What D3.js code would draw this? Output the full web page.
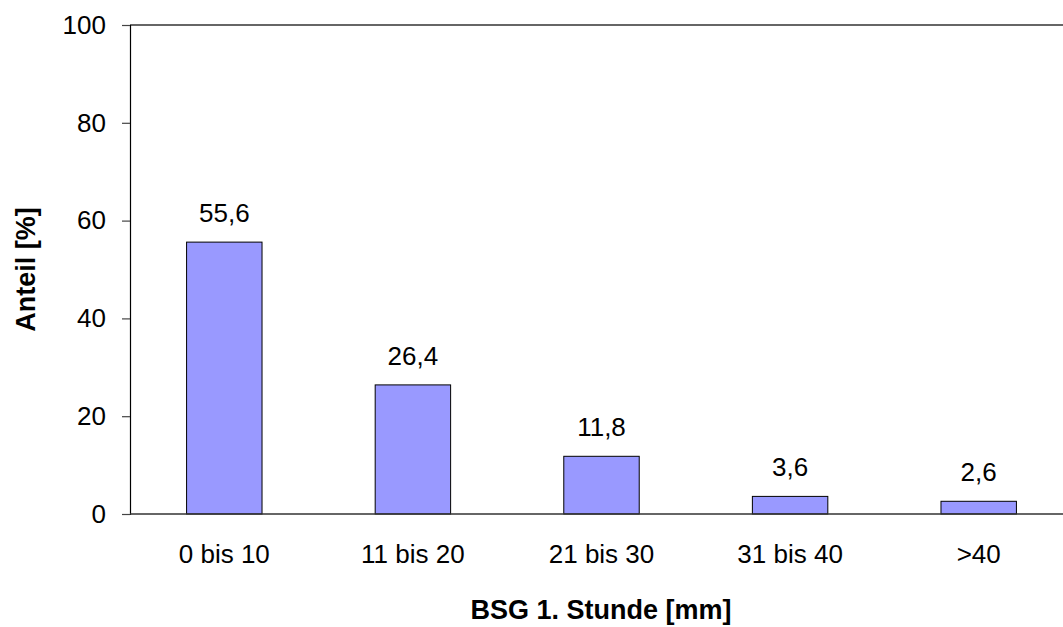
<!DOCTYPE html>
<html><head><meta charset="utf-8">
<script src="https://d3js.org/d3.v7.min.js"></script>
<style>body{margin:0;background:#fff}svg{display:block}text{font-family:"Liberation Sans",Arial,sans-serif}</style>
</head><body><svg id="c" width="1063" height="627"></svg>
<script>
const categories = ["0 bis 10","11 bis 20","21 bis 30","31 bis 40",">40"];
const values = [55.6,26.4,11.8,3.6,2.6];
const valueLabels = ["55,6","26,4","11,8","3,6","2,6"];
const yTicks = [0,20,40,60,80,100];

const svg = d3.select("#c");
const L=130, R=1073, T=25, B=514;
const FS = 26;
const x = d3.scaleBand().domain(categories).range([L,R]).paddingInner(0.6).paddingOuter(0.3);
const y = d3.scaleLinear().domain([0,100]).range([B,T]);

svg.append("line").attr("x1",L).attr("x2",1063).attr("y1",T).attr("y2",T).attr("stroke","#333").attr("stroke-width",1.5);

const yAxis = d3.axisLeft(y).tickValues(yTicks).tickSize(8).tickPadding(16).tickFormat(d3.format("d"));
const gy = svg.append("g").attr("transform",`translate(${L},0)`).call(yAxis);
gy.attr("font-size",null).attr("font-family",null);
gy.select(".domain").attr("stroke","#000").attr("stroke-width",1.2);
gy.selectAll(".tick line").attr("stroke","#444").attr("stroke-width",1.2);
gy.selectAll("text").attr("font-size",FS).attr("fill","#000");

svg.selectAll("rect.bar").data(values).join("rect").attr("class","bar")
  .attr("x",(d,i)=>x(categories[i])).attr("width",x.bandwidth())
  .attr("y",d=>y(d)).attr("height",d=>y(0)-y(d))
  .attr("fill","#9999FF").attr("stroke","#000").attr("stroke-width",1);

svg.append("line").attr("x1",L).attr("x2",1063).attr("y1",B).attr("y2",B).attr("stroke","#333").attr("stroke-width",1.5);

svg.selectAll("text.vl").data(values).join("text").attr("class","vl")
  .attr("x",(d,i)=>x(categories[i])+x.bandwidth()/2).attr("y",d=>y(d)-20)
  .attr("text-anchor","middle").attr("font-size",FS).text((d,i)=>valueLabels[i]);

svg.selectAll("text.xl").data(categories).join("text").attr("class","xl")
  .attr("x",d=>x(d)+x.bandwidth()/2).attr("y",563)
  .attr("text-anchor","middle").attr("font-size",FS).text(d=>d);

svg.append("text").attr("x",601).attr("y",619).attr("text-anchor","middle")
  .attr("font-size",27).attr("font-weight","bold").text("BSG 1. Stunde [mm]");
svg.append("text").attr("transform",`translate(35,${(T+B)/2}) rotate(-90)`).attr("text-anchor","middle")
  .attr("font-size",27).attr("font-weight","bold").text("Anteil [%]");
</script></body></html>
